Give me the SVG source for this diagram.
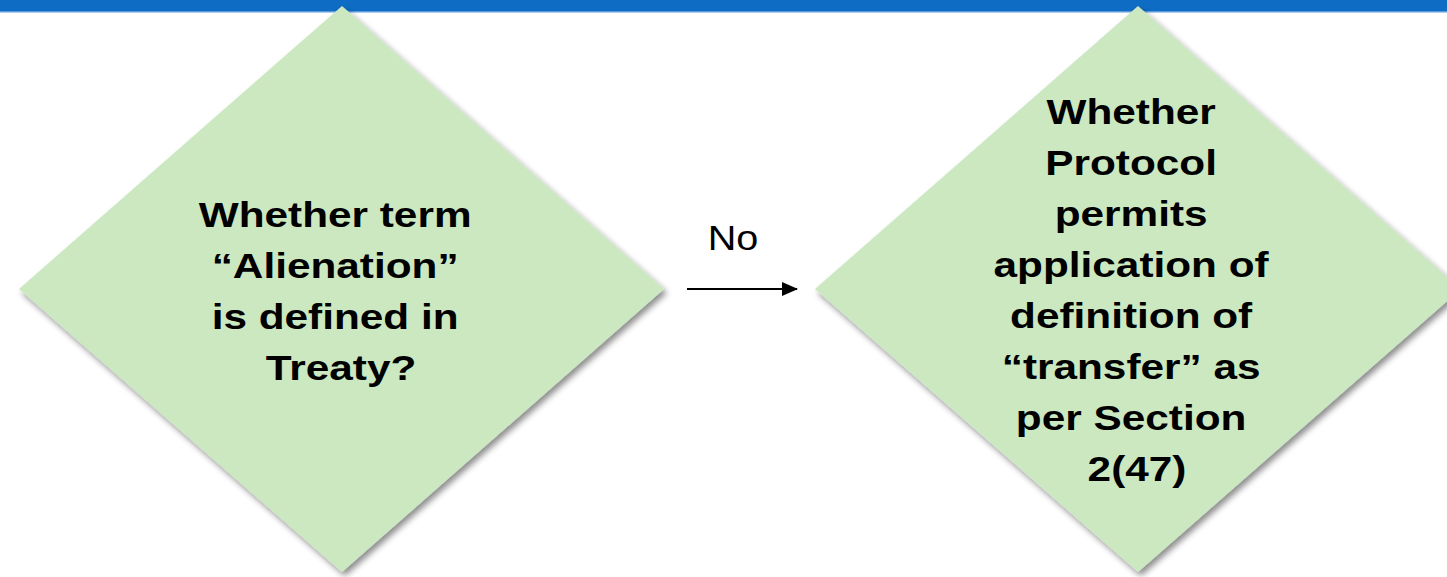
<svg xmlns="http://www.w3.org/2000/svg" width="1447" height="577" viewBox="0 0 1447 577">
  <style>
    .bar { fill: #0E6CC4; }
    .barline { fill: #5B9BDB; }
    .decision { fill: #CBE8C1; filter: url(#shadow); }
    .label { font-family: "Liberation Sans", Arial, sans-serif; font-weight: bold; font-size: 35px; fill: #000; text-anchor: middle; }
    .edge-label { font-family: "Liberation Sans", Arial, sans-serif; font-size: 36px; fill: #000; text-anchor: middle; }
    .edge { stroke: #000; stroke-width: 2; fill: none; }
  </style>
  <defs>
    <filter id="shadow" x="-10%" y="-10%" width="130%" height="130%">
      <feGaussianBlur in="SourceAlpha" stdDeviation="3"/>
      <feOffset dx="3" dy="4" result="blur"/>
      <feFlood flood-color="#000" flood-opacity="0.45"/>
      <feComposite in2="blur" operator="in"/>
      <feMerge>
        <feMergeNode/>
        <feMergeNode in="SourceGraphic"/>
      </feMerge>
    </filter>
    <marker id="arrow" viewBox="0 0 16 16" refX="15" refY="8" markerWidth="16" markerHeight="16" markerUnits="userSpaceOnUse" orient="auto">
      <path d="M0,1 L16,8 L0,15 Z" fill="#000"/>
    </marker>
  </defs>

  <!-- header band -->
  <rect class="bar" x="0" y="0" width="1447" height="11"/>
  <rect class="barline" x="0" y="11" width="1447" height="1.5"/>

  <!-- first decision -->
  <g id="node-alienation">
    <polygon class="decision" points="342,6 664,289 342,572 19,289"/>
    <text class="label" transform="translate(341 0) scale(1.21 1)">
      <tspan x="0" y="227">Whether term</tspan>
      <tspan x="0" y="278">“Alienation”</tspan>
      <tspan x="0" y="329">is defined in</tspan>
      <tspan x="0" y="380">Treaty?</tspan>
    </text>
  </g>

  <!-- second decision -->
  <g id="node-protocol">
    <polygon class="decision" points="1138,6 1461,289 1138,572 815,289"/>
    <text class="label" transform="translate(1137 0) scale(1.21 1)">
      <tspan x="0" y="124">Whether</tspan>
      <tspan x="0" y="175">Protocol</tspan>
      <tspan x="0" y="226">permits</tspan>
      <tspan x="0" y="277">application of</tspan>
      <tspan x="0" y="328">definition of</tspan>
      <tspan x="0" y="379">“transfer” as</tspan>
      <tspan x="0" y="430">per Section</tspan>
      <tspan x="0" y="481">2(47)</tspan>
    </text>
  </g>

  <!-- connectors -->
  <g id="connectors">
    <line class="edge" x1="687" y1="289" x2="797" y2="289" marker-end="url(#arrow)"/>
    <text class="edge-label" transform="translate(733 0) scale(1.1 1)" x="0" y="250">No</text>
  </g>
</svg>
